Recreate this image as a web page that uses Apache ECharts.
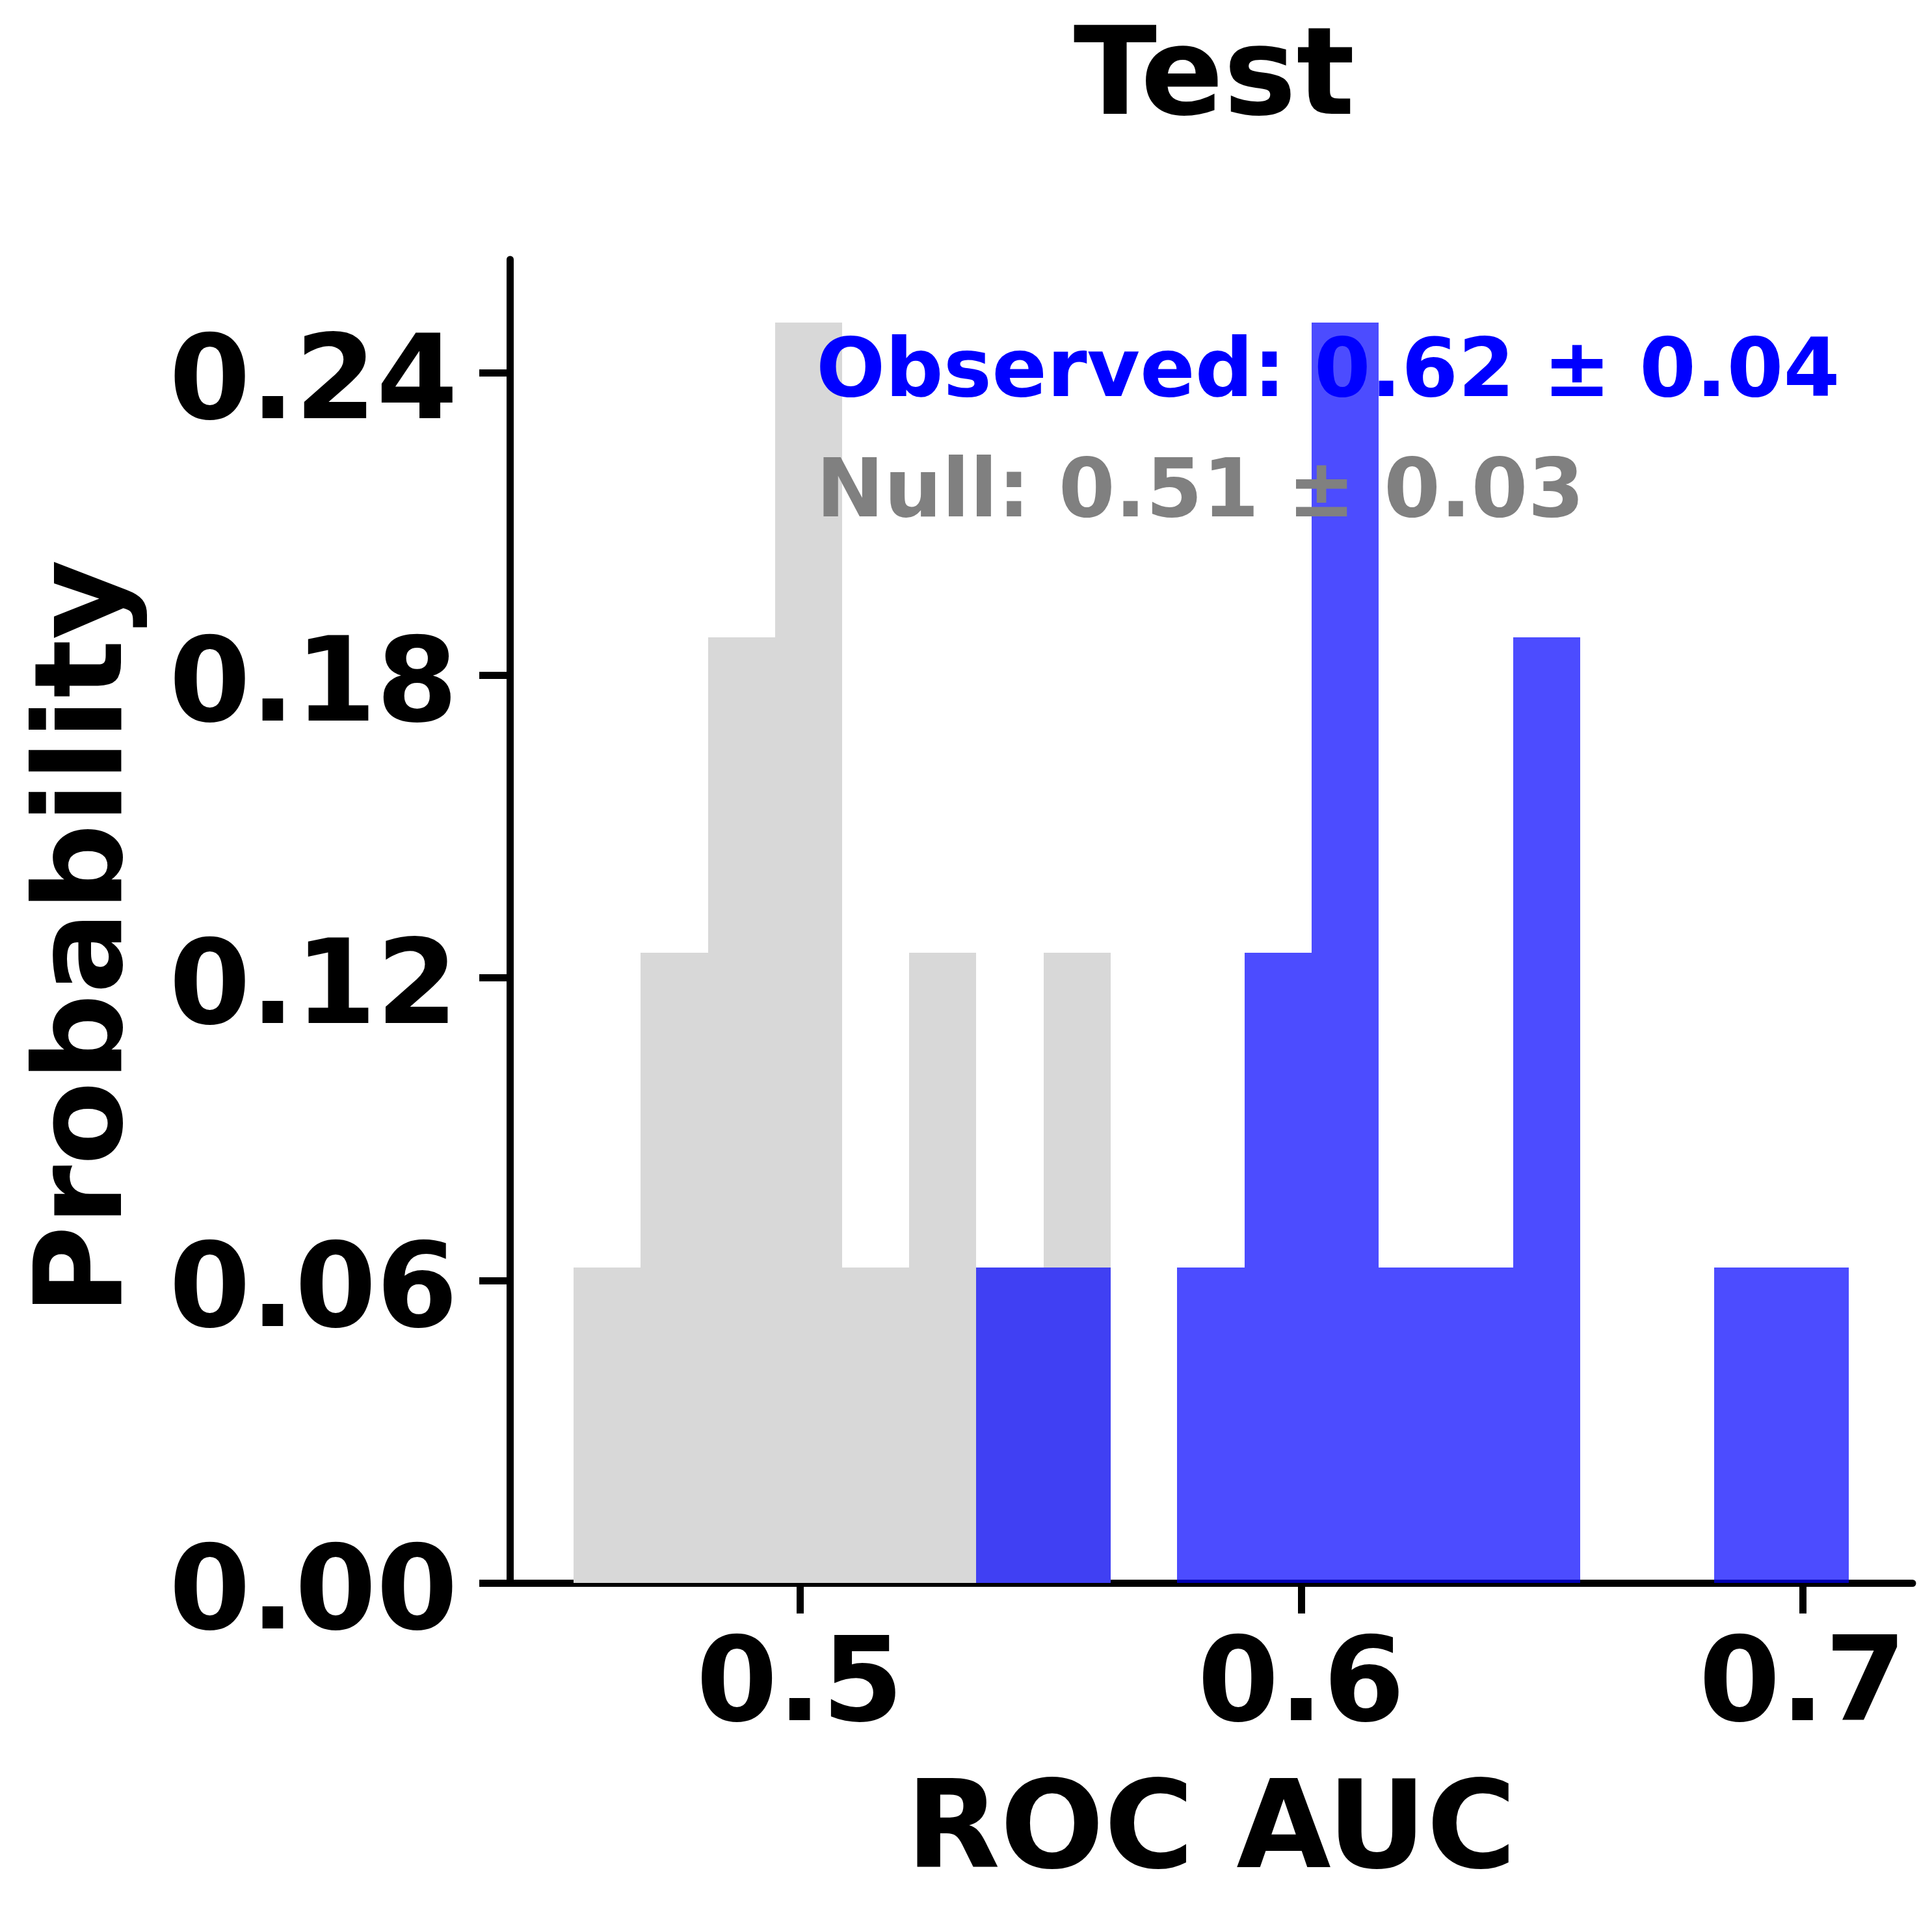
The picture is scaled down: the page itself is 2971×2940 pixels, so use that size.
<!DOCTYPE html>
<html>
<head>
<meta charset="utf-8">
<title>Test</title>
<script src="https://cdn.jsdelivr.net/npm/echarts@6.0.0/dist/echarts.min.js"></script>
<style>
  html, body { margin: 0; padding: 0; background: #fff; }
  #chart { width: 2971px; height: 2940px; }
</style>
</head>
<body>
<div id="chart"></div>
<script>
// histogram bin edges (shared by both distributions)
const binEdges = [0.4549, 0.4683, 0.4817, 0.4951, 0.5084, 0.5218, 0.5352, 0.5486, 0.5620, 0.5753,
                  0.5887, 0.6021, 0.6155, 0.6289, 0.6423, 0.6556, 0.6690, 0.6824, 0.6958, 0.7092];
// probability per bin
const nullProb = [0.0625, 0.125, 0.1875, 0.25, 0.0625, 0.125, 0.0625, 0.125, 0, 0,
                  0, 0, 0, 0, 0, 0, 0, 0, 0];
const obsProb  = [0, 0, 0, 0, 0, 0, 0.0625, 0.0625, 0, 0.0625,
                  0.125, 0.25, 0.0625, 0.0625, 0.1875, 0, 0, 0.0625, 0.0625];
const xTicks = [0.5, 0.6, 0.7];
const yTicks = [0, 0.06, 0.12, 0.18, 0.24];
const obsText = 'Observed: 0.62 ± 0.04';
const nullText = 'Null: 0.51 ± 0.03';

const FONT = 'DejaVu Sans';
const G = { left: 784, right: 30, top: 399, bottom: 506 };

function toBars(prob) {
  const out = [];
  prob.forEach(function (p, i) {
    if (p > 0) out.push([binEdges[i], binEdges[i + 1], p]);
  });
  return out;
}

// snap edges to whole pixels so neighbouring bins touch without seams
function renderItem(params, api) {
  const p0 = api.coord([api.value(0), api.value(2)]);
  const p1 = api.coord([api.value(1), 0]);
  const x0 = Math.round(p0[0]), x1 = Math.round(p1[0]);
  const y0 = Math.round(p0[1]), y1 = Math.round(p1[1]);
  return {
    type: 'rect',
    shape: { x: x0, y: y0, width: x1 - x0, height: y1 - y0 },
    style: api.style()
  };
}

let myChart = echarts.init(document.getElementById('chart'), null, { renderer: 'canvas' });
myChart.setOption({
    animation: false,
    backgroundColor: '#fff',
    grid: G,
    xAxis: {
        type: 'value',
        min: 0.442185,
        max: 0.721915,
        name: 'ROC AUC',
        nameLocation: 'middle',
        nameGap: 294,
        nameTextStyle: { fontFamily: FONT, fontWeight: 'bold', fontSize: 188, color: '#000' },
        axisLine: { show: true, onZero: false, lineStyle: { color: '#000', width: 11 } },
        axisTick: { show: true, length: 47, customValues: xTicks, lineStyle: { color: '#000', width: 11 } },
        axisLabel: {
            customValues: xTicks,
            margin: 74,
            fontFamily: FONT, fontWeight: 'bold', fontSize: 180, color: '#000',
            formatter: function (v) { return v.toFixed(1); }
        },
        splitLine: { show: false }
    },
    yAxis: {
        type: 'value',
        min: 0,
        max: 0.2625,
        name: 'Probability',
        nameLocation: 'middle',
        nameGap: 553,
        nameTextStyle: { fontFamily: FONT, fontWeight: 'bold', fontSize: 188, color: '#000', padding: [0, 50, 0, 0] },
        axisLine: { show: true, lineStyle: { color: '#000', width: 11 } },
        axisTick: { show: true, length: 47, customValues: yTicks, lineStyle: { color: '#000', width: 11 } },
        axisLabel: {
            customValues: yTicks,
            margin: 80,
            verticalAlign: 'top',
            lineHeight: 46,
            fontFamily: FONT, fontWeight: 'bold', fontSize: 180, color: '#000',
            formatter: function (v) { return v.toFixed(2); }
        },
        splitLine: { show: false }
    },
    title: {
        text: 'Test',
        left: 1862,
        top: 121,
        textAlign: 'center',
        textVerticalAlign: 'middle',
        textStyle: { fontFamily: FONT, fontWeight: 'bold', fontSize: 188, color: '#000' }
    },
    graphic: [
        {
            type: 'text', x: 1255, y: 577, z: 100,
            style: { text: obsText, fill: '#0000ff', font: 'bold 125px "DejaVu Sans"', verticalAlign: 'middle', align: 'left' }
        },
        {
            type: 'text', x: 1255, y: 762, z: 100,
            style: { text: nullText, fill: '#808080', font: 'bold 125px "DejaVu Sans"', verticalAlign: 'middle', align: 'left' }
        }
    ],
    series: [
        {
            name: 'Null',
            type: 'custom',
            renderItem: renderItem,
            encode: { x: [0, 1], y: 2 },
            itemStyle: { color: '#d8d8d8' },
            data: toBars(nullProb),
            z: 1
        },
        {
            name: 'Observed',
            type: 'custom',
            renderItem: renderItem,
            encode: { x: [0, 1], y: 2 },
            itemStyle: { color: 'rgba(0,0,255,0.7)' },
            data: toBars(obsProb),
            z: 2
        }
    ]
});
</script>
</body>
</html>
